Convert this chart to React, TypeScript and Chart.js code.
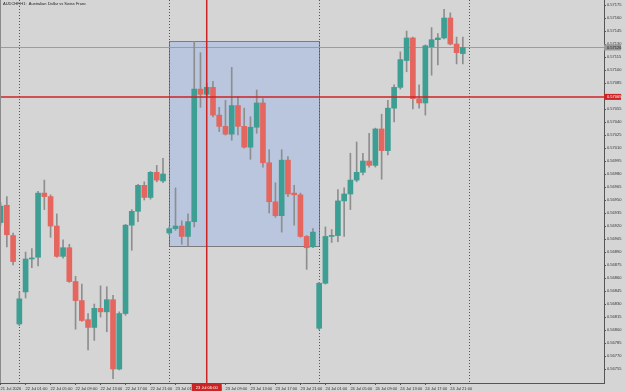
import React, { useEffect, useRef } from "react";
import { Chart, registerables } from "chart.js";

Chart.register(...registerables);

// ---- data (AUDCHF, H1) ----
const chartTitle = "AUDCHF,H1:  Australian Dollar vs Swiss Franc";

const opens = [
  0.56924, 0.56944, 0.56909, 0.56807, 0.56844, 0.56882, 0.56884, 0.56958, 0.56954, 0.5692,
  0.56885, 0.56895, 0.56856, 0.56834, 0.56812, 0.56803, 0.56825, 0.56821, 0.56835, 0.56755,
  0.56819, 0.56921, 0.56937, 0.56967, 0.56953, 0.56982, 0.56972, 0.56912, 0.56917, 0.5692,
  0.56908, 0.56925, 0.57078, 0.57072, 0.5708, 0.57048, 0.57035, 0.57026, 0.57059, 0.57035,
  0.57011, 0.57034, 0.57062, 0.56993, 0.56948, 0.56932, 0.56996, 0.56958, 0.56956, 0.56908,
  0.56896, 0.56802, 0.56854, 0.56908, 0.56909, 0.56949, 0.56957, 0.56973, 0.56982, 0.56995,
  0.5699, 0.57032, 0.57007, 0.57056, 0.5708, 0.57111, 0.57137, 0.57067, 0.57062, 0.57127,
  0.57135, 0.57137, 0.5716, 0.5713, 0.57119,
];
const highs = [
  0.56947, 0.56954, 0.56912, 0.56844, 0.5689, 0.56894, 0.5696, 0.56973, 0.56956, 0.56934,
  0.56904, 0.56899, 0.56862, 0.56853, 0.56819, 0.5683, 0.56851, 0.5685, 0.5684, 0.56821,
  0.56922, 0.56939, 0.56968, 0.56971, 0.56983, 0.5699, 0.56998, 0.56919, 0.56964, 0.56926,
  0.56934, 0.57133, 0.5712, 0.57085, 0.57087, 0.57057, 0.57065, 0.57103, 0.57069, 0.57056,
  0.57046, 0.57077, 0.57067, 0.57008, 0.5697, 0.57008, 0.57, 0.56967, 0.56958, 0.56909,
  0.56917, 0.56855, 0.56919, 0.56916, 0.56962, 0.56964, 0.57004, 0.57017, 0.57004, 0.57027,
  0.57033, 0.57049, 0.57065, 0.57083, 0.57121, 0.57145, 0.57138, 0.57083, 0.57129, 0.57149,
  0.57142, 0.5717, 0.57166, 0.57138, 0.57138,
];
const lows = [
  0.56921, 0.56896, 0.56875, 0.56805, 0.56837, 0.56872, 0.56874, 0.56939, 0.56907, 0.56884,
  0.56883, 0.56855, 0.56801, 0.5681, 0.56777, 0.56788, 0.56815, 0.56798, 0.56744, 0.56754,
  0.56817, 0.56892, 0.56925, 0.5695, 0.56951, 0.56971, 0.5697, 0.5691, 0.56915, 0.56899,
  0.56897, 0.56919, 0.57057, 0.57069, 0.57046, 0.57029, 0.57025, 0.57019, 0.57025, 0.5701,
  0.56997, 0.57027, 0.56988, 0.56935, 0.5693, 0.56913, 0.56954, 0.56921, 0.56907, 0.5687,
  0.56895, 0.568, 0.56853, 0.56901, 0.56902, 0.56908, 0.56939, 0.56971, 0.56979, 0.56988,
  0.56988, 0.56974, 0.57002, 0.5704, 0.57078, 0.57098, 0.57055, 0.57056, 0.57048, 0.57094,
  0.57106, 0.57136, 0.57129, 0.57107, 0.57107,
];
const closes = [
  0.56943, 0.5691, 0.56879, 0.56836, 0.56882, 0.56883, 0.56958, 0.56954, 0.5692, 0.56885,
  0.56895, 0.56856, 0.56834, 0.56811, 0.56803, 0.56825, 0.56821, 0.56835, 0.56755, 0.56819,
  0.56921, 0.56937, 0.56967, 0.56953, 0.56982, 0.56973, 0.5698, 0.56917, 0.5692, 0.56908,
  0.56925, 0.57078, 0.57072, 0.5708, 0.57048, 0.57035, 0.57026, 0.57059, 0.57035, 0.57011,
  0.57034, 0.57062, 0.56993, 0.56948, 0.56932, 0.56996, 0.56957, 0.56956, 0.56908, 0.56895,
  0.56913, 0.56854, 0.56908, 0.56909, 0.56949, 0.56957, 0.56973, 0.56982, 0.56995, 0.5699,
  0.57032, 0.57007, 0.57056, 0.5708, 0.57112, 0.57137, 0.57067, 0.57062, 0.57128, 0.57135,
  0.57137, 0.5716, 0.5713, 0.5712, 0.57126,
];

const timeLabelBars = [0, 4, 8, 12, 16, 20, 24, 28, 32, 36, 40, 44, 48, 52, 56, 60, 64, 68, 72];
const timeLabels = [
  "21 Jul 2026", "22 Jul 01:00", "22 Jul 05:00", "22 Jul 09:00", "22 Jul 13:00",
  "22 Jul 17:00", "22 Jul 21:00", "23 Jul 01:00", "23 Jul 05:00", "23 Jul 09:00",
  "23 Jul 13:00", "23 Jul 17:00", "23 Jul 21:00", "24 Jul 01:00", "24 Jul 05:00",
  "24 Jul 09:00", "24 Jul 13:00", "24 Jul 17:00", "24 Jul 21:00",
];

const priceTicks = [
  0.57175, 0.5716, 0.57145, 0.5713, 0.57115, 0.571, 0.57085, 0.5707, 0.57055, 0.5704,
  0.57025, 0.5701, 0.56995, 0.5698, 0.56965, 0.5695, 0.56935, 0.5692, 0.56905, 0.5689,
  0.56875, 0.5686, 0.56845, 0.5683, 0.56815, 0.568, 0.56785, 0.5677, 0.56755,
];

const daySeparatorBars = [3, 27, 51, 75];
const boxStartBar = 27;
const boxEndBar = 51;
const boxHigh = 0.57133;
const boxLow = 0.56897;
const grayLevel = 0.57126;
const redLevel = 0.57069;
const cursorBar = 33;
const cursorLabel = "23 Jul 06:00";

const viewMinBar = -0.096;
const viewMaxBar = 96.6;
const viewMinPrice = 0.567389;
const viewMaxPrice = 0.571808;

// ---- styles ----
const BG = "#d5d5d5";
const UP = "#3d9e93";
const DOWN = "#e4665f";
const WICK = "#8e8e8e";
const RED = "#cc2424";
const FONT = '"Liberation Sans", Arial, sans-serif';

const overlayPlugin = {
  id: "mtOverlay",
  beforeDraw(chart: any) {
    const { ctx, width, height } = chart;
    ctx.save();
    ctx.fillStyle = BG;
    ctx.fillRect(0, 0, width, height);
    ctx.restore();
  },
  beforeDatasetsDraw(chart: any) {
    const { ctx, chartArea: a } = chart;
    const x = chart.scales.x;
    const y = chart.scales.y;
    ctx.save();
    ctx.beginPath();
    ctx.rect(a.left, a.top, a.right - a.left, a.bottom - a.top);
    ctx.clip();
    // rectangle object
    const x0 = Math.round(x.getPixelForValue(boxStartBar)) + 0.5;
    const x1 = Math.round(x.getPixelForValue(boxEndBar)) + 0.5;
    const y0 = Math.round(y.getPixelForValue(boxHigh)) + 0.5;
    const y1 = Math.round(y.getPixelForValue(boxLow)) + 0.5;
    ctx.fillStyle = "#b9c6dd";
    ctx.fillRect(x0, y0, x1 - x0, y1 - y0);
    ctx.strokeStyle = "#7c7c7c";
    ctx.lineWidth = 1;
    ctx.strokeRect(x0, y0, x1 - x0, y1 - y0);
    // day separators
    ctx.setLineDash([1, 2]);
    ctx.strokeStyle = "#555555";
    daySeparatorBars.forEach((b) => {
      const px = Math.round(x.getPixelForValue(b)) + 0.5;
      ctx.beginPath();
      ctx.moveTo(px, a.top);
      ctx.lineTo(px, a.bottom);
      ctx.stroke();
    });
    ctx.setLineDash([]);
    // gray horizontal line
    const gy = Math.round(y.getPixelForValue(grayLevel)) + 0.5;
    ctx.strokeStyle = "#9c9c9c";
    ctx.beginPath();
    ctx.moveTo(a.left, gy);
    ctx.lineTo(a.right, gy);
    ctx.stroke();
    ctx.restore();
  },
  afterDatasetsDraw(chart: any) {
    const { ctx, chartArea: a } = chart;
    const x = chart.scales.x;
    const y = chart.scales.y;
    ctx.save();
    ctx.strokeStyle = RED;
    ctx.lineWidth = 1.5;
    const ry = y.getPixelForValue(redLevel);
    ctx.beginPath();
    ctx.moveTo(a.left, ry);
    ctx.lineTo(a.right, ry);
    ctx.stroke();
    const cx = x.getPixelForValue(cursorBar);
    ctx.beginPath();
    ctx.moveTo(cx, a.top);
    ctx.lineTo(cx, a.bottom);
    ctx.stroke();
    ctx.restore();
  },
  afterDraw(chart: any) {
    const { ctx, chartArea: a } = chart;
    const x = chart.scales.x;
    const y = chart.scales.y;
    ctx.save();
    ctx.font = `4px ${FONT}`;
    ctx.textBaseline = "middle";
    ctx.textAlign = "left";
    // gray price label
    const gy = y.getPixelForValue(grayLevel);
    ctx.fillStyle = "#9a9a9a";
    ctx.fillRect(a.right, gy - 3, 17, 6);
    ctx.fillStyle = "#222";
    ctx.fillText(grayLevel.toFixed(5), a.right + 3, gy);
    // red price label
    const ry = y.getPixelForValue(redLevel);
    ctx.fillStyle = RED;
    ctx.fillRect(a.right, ry - 3, 17, 6);
    ctx.fillStyle = "#ffffff";
    ctx.fillText(redLevel.toFixed(5), a.right + 3, ry);
    // cursor time label
    const cx = x.getPixelForValue(cursorBar);
    ctx.fillStyle = RED;
    ctx.fillRect(cx - 15, a.bottom + 1, 30, 7);
    ctx.fillStyle = "#ffffff";
    ctx.textAlign = "center";
    ctx.fillText(cursorLabel, cx, a.bottom + 4.5);
    // title
    ctx.textAlign = "left";
    ctx.textBaseline = "top";
    ctx.fillStyle = "#222";
    ctx.fillText(chartTitle, 3, 2);
    // left frame
    ctx.strokeStyle = "#8a8a8a";
    ctx.lineWidth = 1;
    ctx.beginPath();
    ctx.moveTo(0.5, 0);
    ctx.lineTo(0.5, a.bottom);
    ctx.stroke();
    ctx.restore();
  },
};

export default function App() {
  const canvasRef = useRef<HTMLCanvasElement | null>(null);

  useEffect(() => {
    document.body.style.margin = "0";
    const canvas = canvasRef.current;
    if (!canvas) return;
    const bodyColors = opens.map((o, i) => (closes[i] >= o ? UP : DOWN));
    const chart = new Chart(canvas, {
      type: "bar",
      data: {
        datasets: [
          {
            label: "wick",
            data: opens.map((_, i) => ({ x: i, y: [lows[i], highs[i]] })) as any,
            backgroundColor: WICK,
            borderWidth: 0,
            barThickness: 1,
            grouped: false,
            order: 2,
          } as any,
          {
            label: "body",
            data: opens.map((o, i) => ({ x: i, y: [o, closes[i]] })) as any,
            backgroundColor: bodyColors,
            borderWidth: 0,
            barThickness: 5,
            minBarLength: 1,
            grouped: false,
            order: 1,
          } as any,
        ],
      },
      options: {
        responsive: false,
        maintainAspectRatio: false,
        animation: false,
        layout: { padding: 0 },
        plugins: {
          legend: { display: false },
          tooltip: { enabled: false },
          title: { display: false },
        },
        scales: {
          x: {
            type: "linear",
            position: "bottom",
            min: viewMinBar,
            max: viewMaxBar,
            offset: false,
            grid: {
              display: true,
              drawOnChartArea: false,
              drawTicks: true,
              tickLength: 2,
              color: "#555",
              offset: false,
            },
            border: { display: true, color: "#555", width: 1 },
            ticks: {
              autoSkip: false,
              maxRotation: 0,
              minRotation: 0,
              align: "start",
              padding: 1,
              color: "#333",
              font: { size: 4, family: FONT },
              callback: (v: any) => {
                const k = timeLabelBars.indexOf(Number(v));
                return k >= 0 ? timeLabels[k] : "";
              },
            },
            afterBuildTicks: (s: any) => {
              s.ticks = timeLabelBars.map((b) => ({ value: b }));
            },
            afterFit: (s: any) => {
              s.height = 9;
              s.paddingLeft = 0;
              s.paddingRight = 0;
            },
          } as any,
          y: {
            type: "linear",
            position: "right",
            min: viewMinPrice,
            max: viewMaxPrice,
            grid: {
              display: true,
              drawOnChartArea: false,
              drawTicks: true,
              tickLength: 2,
              color: "#555",
            },
            border: { display: true, color: "#555", width: 1 },
            ticks: {
              autoSkip: false,
              padding: 1,
              color: "#333",
              font: { size: 4, family: FONT },
              callback: (v: any) => Number(v).toFixed(5),
            },
            afterBuildTicks: (s: any) => {
              s.ticks = priceTicks.map((p) => ({ value: p }));
            },
            afterFit: (s: any) => {
              s.width = 21;
              s.paddingTop = 0;
              s.paddingBottom = 0;
            },
          } as any,
        },
      },
      plugins: [overlayPlugin],
    });
    return () => chart.destroy();
  }, []);

  return (
    <div style={{ width: 625, height: 392 }}>
      <canvas ref={canvasRef} width={625} height={392} style={{ display: "block" }} />
    </div>
  );
}
